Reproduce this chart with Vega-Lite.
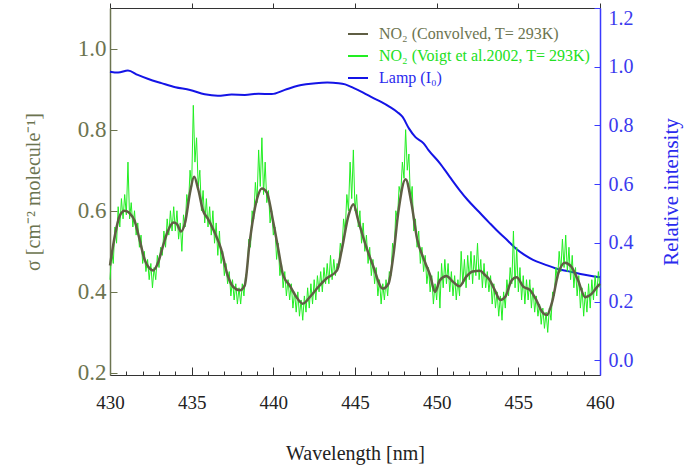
{
  "$schema": "https://vega.github.io/schema/vega-lite/v6.json",
  "width": 490,
  "height": 367,
  "autosize": {"type": "none"},
  "padding": {"left": 110, "top": 8, "right": 87, "bottom": 95},
  "config": {
    "view": {"stroke": null},
    "font": "Liberation Serif",
    "axis": {"labelFont": "Liberation Serif", "titleFont": "Liberation Serif", "grid": false, "titleFontWeight": "normal"},
    "legend": {
      "orient": "none", "legendX": 237, "legendY": 15, "symbolType": "stroke", "symbolSize": 400,
      "symbolStrokeWidth": 2, "labelFontSize": 16, "labelFont": "Liberation Serif", "labelOffset": 10,
      "rowPadding": 3, "padding": 0, "labelLimit": 400,
      "labelColor": {"expr": "datum.value === 'Lamp (I₀)' ? '#2a2aee' : (indexof(datum.value, 'Voigt') >= 0 ? '#22e022' : '#6c7450')"}
    }
  },
  "datasets": {
    "voigt": [
      {"w":430.0,"v":0.43},{"w":430.1,"v":0.50},{"w":430.2,"v":0.47},{"w":430.3,"v":0.56},{"w":430.4,"v":0.52},{"w":430.5,"v":0.61},{"w":430.6,"v":0.56},{"w":430.7,"v":0.63},{"w":430.8,"v":0.58},{"w":430.9,"v":0.64},
      {"w":431.0,"v":0.59},{"w":431.1,"v":0.72},{"w":431.2,"v":0.58},{"w":431.3,"v":0.62},{"w":431.4,"v":0.56},{"w":431.5,"v":0.60},{"w":431.6,"v":0.54},{"w":431.7,"v":0.57},{"w":431.8,"v":0.51},{"w":431.9,"v":0.54},
      {"w":432.0,"v":0.47},{"w":432.1,"v":0.50},{"w":432.2,"v":0.45},{"w":432.3,"v":0.48},{"w":432.4,"v":0.43},{"w":432.5,"v":0.47},{"w":432.6,"v":0.41},{"w":432.7,"v":0.46},{"w":432.8,"v":0.43},{"w":432.9,"v":0.49},
      {"w":433.0,"v":0.46},{"w":433.1,"v":0.51},{"w":433.2,"v":0.49},{"w":433.3,"v":0.55},{"w":433.4,"v":0.51},{"w":433.5,"v":0.58},{"w":433.6,"v":0.54},{"w":433.7,"v":0.60},{"w":433.8,"v":0.55},{"w":433.9,"v":0.61},
      {"w":434.0,"v":0.55},{"w":434.1,"v":0.60},{"w":434.2,"v":0.53},{"w":434.3,"v":0.57},{"w":434.4,"v":0.50},{"w":434.5,"v":0.59},{"w":434.6,"v":0.56},{"w":434.7,"v":0.64},{"w":434.8,"v":0.61},{"w":434.9,"v":0.70},
      {"w":435.0,"v":0.66},{"w":435.1,"v":0.86},{"w":435.2,"v":0.72},{"w":435.3,"v":0.78},{"w":435.4,"v":0.66},{"w":435.5,"v":0.70},{"w":435.6,"v":0.60},{"w":435.7,"v":0.65},{"w":435.8,"v":0.57},{"w":435.9,"v":0.63},
      {"w":436.0,"v":0.56},{"w":436.1,"v":0.61},{"w":436.2,"v":0.54},{"w":436.3,"v":0.60},{"w":436.4,"v":0.52},{"w":436.5,"v":0.57},{"w":436.6,"v":0.49},{"w":436.7,"v":0.55},{"w":436.8,"v":0.47},{"w":436.9,"v":0.50},
      {"w":437.0,"v":0.44},{"w":437.1,"v":0.47},{"w":437.2,"v":0.42},{"w":437.3,"v":0.45},{"w":437.4,"v":0.39},{"w":437.5,"v":0.43},{"w":437.6,"v":0.38},{"w":437.7,"v":0.42},{"w":437.8,"v":0.37},{"w":437.9,"v":0.41},
      {"w":438.0,"v":0.37},{"w":438.1,"v":0.42},{"w":438.2,"v":0.39},{"w":438.3,"v":0.44},{"w":438.4,"v":0.45},{"w":438.5,"v":0.53},{"w":438.6,"v":0.51},{"w":438.7,"v":0.60},{"w":438.8,"v":0.58},{"w":438.9,"v":0.67},
      {"w":439.0,"v":0.62},{"w":439.1,"v":0.75},{"w":439.2,"v":0.66},{"w":439.3,"v":0.78},{"w":439.4,"v":0.64},{"w":439.5,"v":0.72},{"w":439.6,"v":0.62},{"w":439.7,"v":0.65},{"w":439.8,"v":0.57},{"w":439.9,"v":0.60},
      {"w":440.0,"v":0.54},{"w":440.1,"v":0.56},{"w":440.2,"v":0.48},{"w":440.3,"v":0.52},{"w":440.4,"v":0.44},{"w":440.5,"v":0.47},{"w":440.6,"v":0.41},{"w":440.7,"v":0.45},{"w":440.8,"v":0.39},{"w":440.9,"v":0.43},
      {"w":441.0,"v":0.38},{"w":441.1,"v":0.42},{"w":441.2,"v":0.36},{"w":441.3,"v":0.40},{"w":441.4,"v":0.35},{"w":441.5,"v":0.40},{"w":441.6,"v":0.34},{"w":441.7,"v":0.38},{"w":441.8,"v":0.33},{"w":441.9,"v":0.39},
      {"w":442.0,"v":0.35},{"w":442.1,"v":0.41},{"w":442.2,"v":0.36},{"w":442.3,"v":0.42},{"w":442.4,"v":0.37},{"w":442.5,"v":0.43},{"w":442.6,"v":0.38},{"w":442.7,"v":0.44},{"w":442.8,"v":0.40},{"w":442.9,"v":0.45},
      {"w":443.0,"v":0.40},{"w":443.1,"v":0.46},{"w":443.2,"v":0.42},{"w":443.3,"v":0.47},{"w":443.4,"v":0.42},{"w":443.5,"v":0.49},{"w":443.6,"v":0.43},{"w":443.7,"v":0.48},{"w":443.8,"v":0.44},{"w":443.9,"v":0.47},
      {"w":444.0,"v":0.46},{"w":444.1,"v":0.52},{"w":444.2,"v":0.50},{"w":444.3,"v":0.58},{"w":444.4,"v":0.55},{"w":444.5,"v":0.64},{"w":444.6,"v":0.60},{"w":444.7,"v":0.72},{"w":444.8,"v":0.63},{"w":444.9,"v":0.75},
      {"w":445.0,"v":0.60},{"w":445.1,"v":0.64},{"w":445.2,"v":0.56},{"w":445.3,"v":0.60},{"w":445.4,"v":0.52},{"w":445.5,"v":0.57},{"w":445.6,"v":0.50},{"w":445.7,"v":0.54},{"w":445.8,"v":0.47},{"w":445.9,"v":0.51},
      {"w":446.0,"v":0.44},{"w":446.1,"v":0.48},{"w":446.2,"v":0.42},{"w":446.3,"v":0.46},{"w":446.4,"v":0.39},{"w":446.5,"v":0.43},{"w":446.6,"v":0.37},{"w":446.7,"v":0.42},{"w":446.8,"v":0.38},{"w":446.9,"v":0.43},
      {"w":447.0,"v":0.39},{"w":447.1,"v":0.45},{"w":447.2,"v":0.44},{"w":447.3,"v":0.52},{"w":447.4,"v":0.50},{"w":447.5,"v":0.60},{"w":447.6,"v":0.58},{"w":447.7,"v":0.66},{"w":447.8,"v":0.64},{"w":447.9,"v":0.72},
      {"w":448.0,"v":0.68},{"w":448.1,"v":0.80},{"w":448.2,"v":0.70},{"w":448.3,"v":0.74},{"w":448.4,"v":0.62},{"w":448.5,"v":0.66},{"w":448.6,"v":0.55},{"w":448.7,"v":0.58},{"w":448.8,"v":0.51},{"w":448.9,"v":0.55},
      {"w":449.0,"v":0.47},{"w":449.1,"v":0.51},{"w":449.2,"v":0.45},{"w":449.3,"v":0.49},{"w":449.4,"v":0.42},{"w":449.5,"v":0.46},{"w":449.6,"v":0.40},{"w":449.7,"v":0.44},{"w":449.8,"v":0.37},{"w":449.9,"v":0.42},
      {"w":450.0,"v":0.38},{"w":450.1,"v":0.45},{"w":450.2,"v":0.36},{"w":450.3,"v":0.47},{"w":450.4,"v":0.41},{"w":450.5,"v":0.48},{"w":450.6,"v":0.42},{"w":450.7,"v":0.47},{"w":450.8,"v":0.40},{"w":450.9,"v":0.45},
      {"w":451.0,"v":0.39},{"w":451.1,"v":0.44},{"w":451.2,"v":0.38},{"w":451.3,"v":0.43},{"w":451.4,"v":0.39},{"w":451.5,"v":0.50},{"w":451.6,"v":0.42},{"w":451.7,"v":0.48},{"w":451.8,"v":0.41},{"w":451.9,"v":0.49},
      {"w":452.0,"v":0.43},{"w":452.1,"v":0.50},{"w":452.2,"v":0.42},{"w":452.3,"v":0.49},{"w":452.4,"v":0.44},{"w":452.5,"v":0.52},{"w":452.6,"v":0.43},{"w":452.7,"v":0.48},{"w":452.8,"v":0.41},{"w":452.9,"v":0.47},
      {"w":453.0,"v":0.41},{"w":453.1,"v":0.45},{"w":453.2,"v":0.40},{"w":453.3,"v":0.44},{"w":453.4,"v":0.37},{"w":453.5,"v":0.42},{"w":453.6,"v":0.36},{"w":453.7,"v":0.40},{"w":453.8,"v":0.34},{"w":453.9,"v":0.39},
      {"w":454.0,"v":0.33},{"w":454.1,"v":0.40},{"w":454.2,"v":0.36},{"w":454.3,"v":0.43},{"w":454.4,"v":0.39},{"w":454.5,"v":0.46},{"w":454.6,"v":0.42},{"w":454.7,"v":0.55},{"w":454.8,"v":0.41},{"w":454.9,"v":0.51},
      {"w":455.0,"v":0.40},{"w":455.1,"v":0.46},{"w":455.2,"v":0.38},{"w":455.3,"v":0.44},{"w":455.4,"v":0.37},{"w":455.5,"v":0.43},{"w":455.6,"v":0.38},{"w":455.7,"v":0.43},{"w":455.8,"v":0.36},{"w":455.9,"v":0.41},
      {"w":456.0,"v":0.35},{"w":456.1,"v":0.39},{"w":456.2,"v":0.34},{"w":456.3,"v":0.37},{"w":456.4,"v":0.32},{"w":456.5,"v":0.36},{"w":456.6,"v":0.31},{"w":456.7,"v":0.35},{"w":456.8,"v":0.30},{"w":456.9,"v":0.36},
      {"w":457.0,"v":0.33},{"w":457.1,"v":0.40},{"w":457.2,"v":0.39},{"w":457.3,"v":0.46},{"w":457.4,"v":0.43},{"w":457.5,"v":0.50},{"w":457.6,"v":0.45},{"w":457.7,"v":0.53},{"w":457.8,"v":0.46},{"w":457.9,"v":0.54},
      {"w":458.0,"v":0.45},{"w":458.1,"v":0.51},{"w":458.2,"v":0.43},{"w":458.3,"v":0.49},{"w":458.4,"v":0.41},{"w":458.5,"v":0.46},{"w":458.6,"v":0.39},{"w":458.7,"v":0.44},{"w":458.8,"v":0.36},{"w":458.9,"v":0.41},
      {"w":459.0,"v":0.34},{"w":459.1,"v":0.40},{"w":459.2,"v":0.35},{"w":459.3,"v":0.42},{"w":459.4,"v":0.36},{"w":459.5,"v":0.43},{"w":459.6,"v":0.38},{"w":459.7,"v":0.44},{"w":459.8,"v":0.39},{"w":459.9,"v":0.45},
      {"w":460.0,"v":0.41}
    ],
    "conv": [
      {"w":430.0,"v":0.465},{"w":430.3,"v":0.539},{"w":430.6,"v":0.588},{"w":430.9,"v":0.600},{"w":431.2,"v":0.594},{"w":431.5,"v":0.576},{"w":431.8,"v":0.531},{"w":432.1,"v":0.482},{"w":432.45,"v":0.457},{"w":432.65,"v":0.453},
      {"w":432.95,"v":0.473},{"w":433.25,"v":0.514},{"w":433.55,"v":0.551},{"w":433.9,"v":0.571},{"w":434.1,"v":0.567},{"w":434.35,"v":0.549},{"w":434.6,"v":0.571},{"w":434.9,"v":0.645},{"w":435.15,"v":0.684},{"w":435.4,"v":0.653},
      {"w":435.7,"v":0.600},{"w":436.0,"v":0.580},{"w":436.4,"v":0.547},{"w":436.8,"v":0.506},{"w":437.2,"v":0.441},{"w":437.55,"v":0.412},{"w":437.95,"v":0.404},{"w":438.25,"v":0.416},{"w":438.55,"v":0.522},{"w":439.0,"v":0.629},
      {"w":439.3,"v":0.655},{"w":439.6,"v":0.645},{"w":440.0,"v":0.571},{"w":440.3,"v":0.506},{"w":440.6,"v":0.441},{"w":441.0,"v":0.416},{"w":441.4,"v":0.388},{"w":441.8,"v":0.371},{"w":442.25,"v":0.388},{"w":442.75,"v":0.412},
      {"w":443.25,"v":0.433},{"w":443.9,"v":0.453},{"w":444.2,"v":0.506},{"w":444.6,"v":0.588},{"w":444.9,"v":0.616},{"w":445.2,"v":0.576},{"w":445.6,"v":0.522},{"w":446.1,"v":0.465},{"w":446.7,"v":0.408},{"w":447.05,"v":0.420},
      {"w":447.35,"v":0.490},{"w":447.65,"v":0.596},{"w":448.1,"v":0.678},{"w":448.45,"v":0.620},{"w":448.8,"v":0.531},{"w":449.2,"v":0.482},{"w":449.6,"v":0.441},{"w":449.9,"v":0.400},{"w":450.2,"v":0.429},{"w":450.6,"v":0.439},
      {"w":451.0,"v":0.425},{"w":451.4,"v":0.414},{"w":451.8,"v":0.437},{"w":452.2,"v":0.450},{"w":452.65,"v":0.452},{"w":452.95,"v":0.442},{"w":453.25,"v":0.429},{"w":453.55,"v":0.405},{"w":453.9,"v":0.380},{"w":454.2,"v":0.388},
      {"w":454.6,"v":0.429},{"w":454.9,"v":0.436},{"w":455.3,"v":0.413},{"w":455.7,"v":0.405},{"w":456.1,"v":0.380},{"w":456.45,"v":0.351},{"w":456.75,"v":0.343},{"w":457.05,"v":0.372},{"w":457.45,"v":0.446},{"w":457.85,"v":0.472},
      {"w":458.25,"v":0.462},{"w":458.65,"v":0.429},{"w":459.1,"v":0.387},{"w":459.4,"v":0.392},{"w":459.8,"v":0.411},{"w":460.0,"v":0.420}
    ],
    "lamp": [
      {"w":430.0,"v":0.983},{"w":430.5,"v":0.980},{"w":431.1,"v":0.987},{"w":431.7,"v":0.972},{"w":432.35,"v":0.958},{"w":433.15,"v":0.944},{"w":434.0,"v":0.930},{"w":434.9,"v":0.921},{"w":435.8,"v":0.906},{"w":436.6,"v":0.901},
      {"w":437.45,"v":0.905},{"w":438.25,"v":0.904},{"w":439.1,"v":0.908},{"w":439.9,"v":0.907},{"w":440.7,"v":0.921},{"w":441.5,"v":0.935},{"w":442.0,"v":0.940},{"w":442.6,"v":0.944},{"w":443.3,"v":0.946},{"w":444.0,"v":0.944},
      {"w":444.4,"v":0.940},{"w":444.9,"v":0.928},{"w":445.5,"v":0.912},{"w":446.1,"v":0.894},{"w":446.6,"v":0.880},{"w":447.1,"v":0.864},{"w":447.6,"v":0.845},{"w":447.9,"v":0.830},{"w":448.3,"v":0.790},{"w":448.7,"v":0.760},
      {"w":449.2,"v":0.739},{"w":449.5,"v":0.716},{"w":450.2,"v":0.671},{"w":450.8,"v":0.625},{"w":451.4,"v":0.580},{"w":451.9,"v":0.546},{"w":452.6,"v":0.505},{"w":453.2,"v":0.470},{"w":453.8,"v":0.436},{"w":454.4,"v":0.405},
      {"w":454.9,"v":0.378},{"w":455.4,"v":0.358},{"w":455.9,"v":0.342},{"w":456.6,"v":0.327},{"w":457.3,"v":0.313},{"w":458.1,"v":0.303},{"w":458.8,"v":0.294},{"w":459.4,"v":0.288},{"w":460.0,"v":0.283}
    ]
  },
  "layer": [
    {
      "data": {"name": "lamp"},
      "mark": {"type": "line", "strokeWidth": 2, "interpolate": "monotone"},
      "encoding": {
        "x": {"field": "w", "type": "quantitative", "scale": {"domain": [430, 460], "nice": false, "zero": false}, "axis": null},
        "y": {"field": "v", "type": "quantitative", "scale": {"domain": [-0.05, 1.2], "nice": false, "zero": false},
          "axis": {"orient": "right", "values": [0, 0.2, 0.4, 0.6, 0.8, 1.0, 1.2], "format": ".1f", "labelFlush": true,
            "tickSize": -6, "labelPadding": 14, "labelFontSize": 20, "labelColor": "#3a3aee",
            "tickColor": "#3a3aff", "domainColor": "#3a3aff", "domainWidth": 1.5,
            "title": "Relative intensity", "titleFontSize": 21, "titleColor": "#2a2aee", "titleAngle": 270, "titleBaseline": "top", "titlePadding": 27}},
        "color": {"datum": "Lamp (I₀)", "type": "nominal",
          "scale": {"domain": ["NO₂ (Convolved, T= 293K)", "NO₂ (Voigt et al.2002, T= 293K)", "Lamp (I₀)"], "range": ["#5f5e44", "#22ee22", "#1414e6"]},
          "legend": {"title": null}}
      }
    },
    {
      "data": {"name": "voigt"},
      "mark": {"type": "line", "strokeWidth": 1},
      "encoding": {
        "x": {"field": "w", "type": "quantitative",
          "axis": {"orient": "bottom", "values": [430,431,432,433,434,435,436,437,438,439,440,441,442,443,444,445,446,447,448,449,450,451,452,453,454,455,456,457,458,459,460],
            "format": "d", "labelExpr": "datum.value % 5 === 0 ? datum.label : ''", "labelOverlap": false, "labelFlush": false,
            "labelFontSize": 19, "labelColor": "#222222", "labelPadding": 26,
            "tickSize": {"condition": {"test": "datum.value % 5 === 0", "value": -8}, "value": -4},
            "tickColor": "#333333", "domainColor": "#333333", "domainWidth": 1.2,
            "title": "Wavelength [nm]", "titleFontSize": 20, "titleColor": "#222222", "titlePadding": 27}},
        "y": {"field": "v", "type": "quantitative", "scale": {"domain": [0.195, 1.1], "nice": false, "zero": false},
          "axis": {"orient": "left", "values": [0.2, 0.4, 0.6, 0.8, 1.0], "format": ".1f", "labelFlush": false,
            "tickSize": -7, "labelPadding": 11, "labelFontSize": 23, "labelColor": "#6c7450",
            "tickColor": "#6c7450", "domainColor": "#6c7450", "domainWidth": 1.5,
            "title": "σ [cm⁻² molecule⁻¹]", "titleFontSize": 20, "titleColor": "#6c7450", "titlePadding": 34}},
        "color": {"datum": "NO₂ (Voigt et al.2002, T= 293K)", "type": "nominal"}
      }
    },
    {
      "data": {"name": "conv"},
      "mark": {"type": "line", "strokeWidth": 2.5, "interpolate": "monotone"},
      "encoding": {
        "x": {"field": "w", "type": "quantitative",
          "axis": {"orient": "top", "values": [430, 435, 440, 445, 450, 455, 460],
            "labels": true, "labelOpacity": 0, "tickSize": 5,
            "tickColor": "#333333", "domainColor": "#333333", "domainWidth": 1.2,
            "title": "Wavelength", "titleOpacity": 0}},
        "y": {"field": "v", "type": "quantitative", "scale": {"domain": [0.195, 1.1], "nice": false, "zero": false}, "axis": null},
        "color": {"datum": "NO₂ (Convolved, T= 293K)", "type": "nominal"}
      }
    }
  ],
  "resolve": {"scale": {"y": "independent"}, "axis": {"x": "independent"}}
}
